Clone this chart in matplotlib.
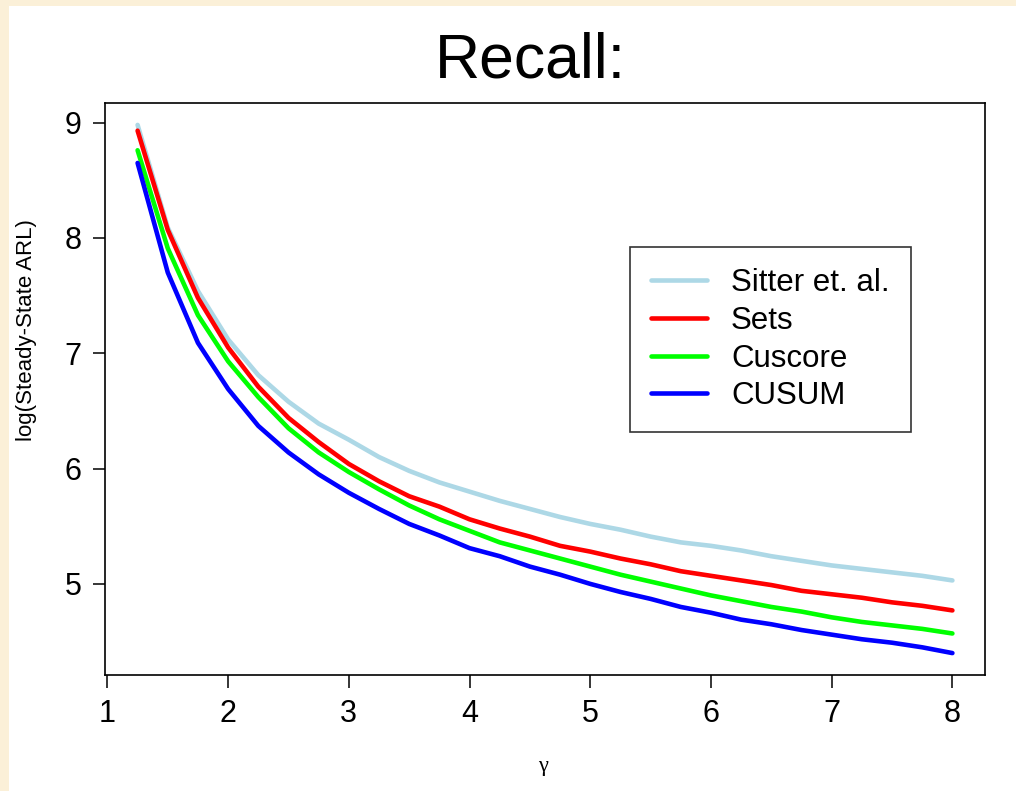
import matplotlib
matplotlib.use("Agg")
import matplotlib.pyplot as plt
from matplotlib.patches import Rectangle

plt.rcParams["font.family"] = ["Liberation Sans", "DejaVu Sans"]

# shift size gamma
gamma = [1.25, 1.5, 1.75, 2.0, 2.25, 2.5, 2.75, 3.0, 3.25, 3.5, 3.75, 4.0,
         4.25, 4.5, 4.75, 5.0, 5.25, 5.5, 5.75, 6.0, 6.25, 6.5, 6.75, 7.0,
         7.25, 7.5, 7.75, 8.0]

# log steady-state ARL per method
sitter = [8.98, 8.09, 7.54, 7.12, 6.81, 6.58, 6.39, 6.25, 6.10, 5.98, 5.88, 5.80,
          5.72, 5.65, 5.58, 5.52, 5.47, 5.41, 5.36, 5.33, 5.29, 5.24, 5.20, 5.16,
          5.13, 5.10, 5.07, 5.03]
sets = [8.93, 8.07, 7.48, 7.05, 6.71, 6.44, 6.23, 6.04, 5.89, 5.76, 5.67, 5.56,
        5.48, 5.41, 5.33, 5.28, 5.22, 5.17, 5.11, 5.07, 5.03, 4.99, 4.94, 4.91,
        4.88, 4.84, 4.81, 4.77]
cuscore = [8.76, 7.91, 7.33, 6.93, 6.62, 6.35, 6.14, 5.97, 5.82, 5.68, 5.56, 5.46,
           5.36, 5.29, 5.22, 5.15, 5.08, 5.02, 4.96, 4.90, 4.85, 4.80, 4.76, 4.71,
           4.67, 4.64, 4.61, 4.57]
cusum = [8.65, 7.70, 7.09, 6.69, 6.37, 6.14, 5.95, 5.79, 5.65, 5.52, 5.42, 5.31,
         5.24, 5.15, 5.08, 5.00, 4.93, 4.87, 4.80, 4.75, 4.69, 4.65, 4.60, 4.56,
         4.52, 4.49, 4.45, 4.40]

labels = ["Sitter et. al.", "Sets", "Cuscore", "CUSUM"]
colors = ["#ADD8E6", "#FF0000", "#00FF00", "#0000FF"]
x_ticks = [1, 2, 3, 4, 5, 6, 7, 8]
y_ticks = [5, 6, 7, 8, 9]

W, H = 1016, 791
fig = plt.figure(figsize=(W / 100, H / 100), dpi=100)
fig.patch.set_facecolor("#FBF0D8")
fig.patches.append(Rectangle((9 / W, 0), 1 - 9 / W, (H - 6) / H,
                             transform=fig.transFigure, facecolor="white",
                             edgecolor="none", zorder=-10))

ax = fig.add_axes([105 / W, (H - 675) / H, 880 / W, 572 / H])
ax.set_zorder(1)
ax.set_facecolor("white")

for ys, lab, col in zip([sitter, sets, cuscore, cusum], labels, colors):
    ax.plot(gamma, ys, color=col, lw=3.3, label=lab, solid_capstyle="round",
            solid_joinstyle="round")

ax.set_xlim(0.98, 8.27)
ax.set_ylim(4.21, 9.17)
ax.set_xticks(x_ticks)
ax.set_yticks(y_ticks)
ax.tick_params(axis="both", direction="out", length=9, width=1.1,
               labelsize=22, color="black")
ax.tick_params(axis="x", pad=8)
ax.tick_params(axis="y", pad=8)
for s in ax.spines.values():
    s.set_linewidth(1.2)
    s.set_color("black")

leg = ax.legend(loc="upper left", bbox_to_anchor=((630 - 105) / 880, (675 - 247) / 572),
                borderaxespad=0, fontsize=22.5, handlelength=1.79,
                handletextpad=0.77, labelspacing=0.25, borderpad=0.67,
                frameon=True, fancybox=False)
leg.get_frame().set_edgecolor("black")
leg.get_frame().set_linewidth(1.2)

fig.text(530 / W, (H - 78) / H, "Recall:", fontsize=45, ha="center", va="baseline")
fig.text(27 / W, (H - 330) / H, "log(Steady-State ARL)", fontsize=16,
         rotation=90, ha="center", va="center")
fig.text(543 / W, (H - 767) / H, "γ", fontsize=16, ha="center", va="center",
         family=["Liberation Serif", "DejaVu Serif"])

fig.savefig("out.png", dpi=100)
